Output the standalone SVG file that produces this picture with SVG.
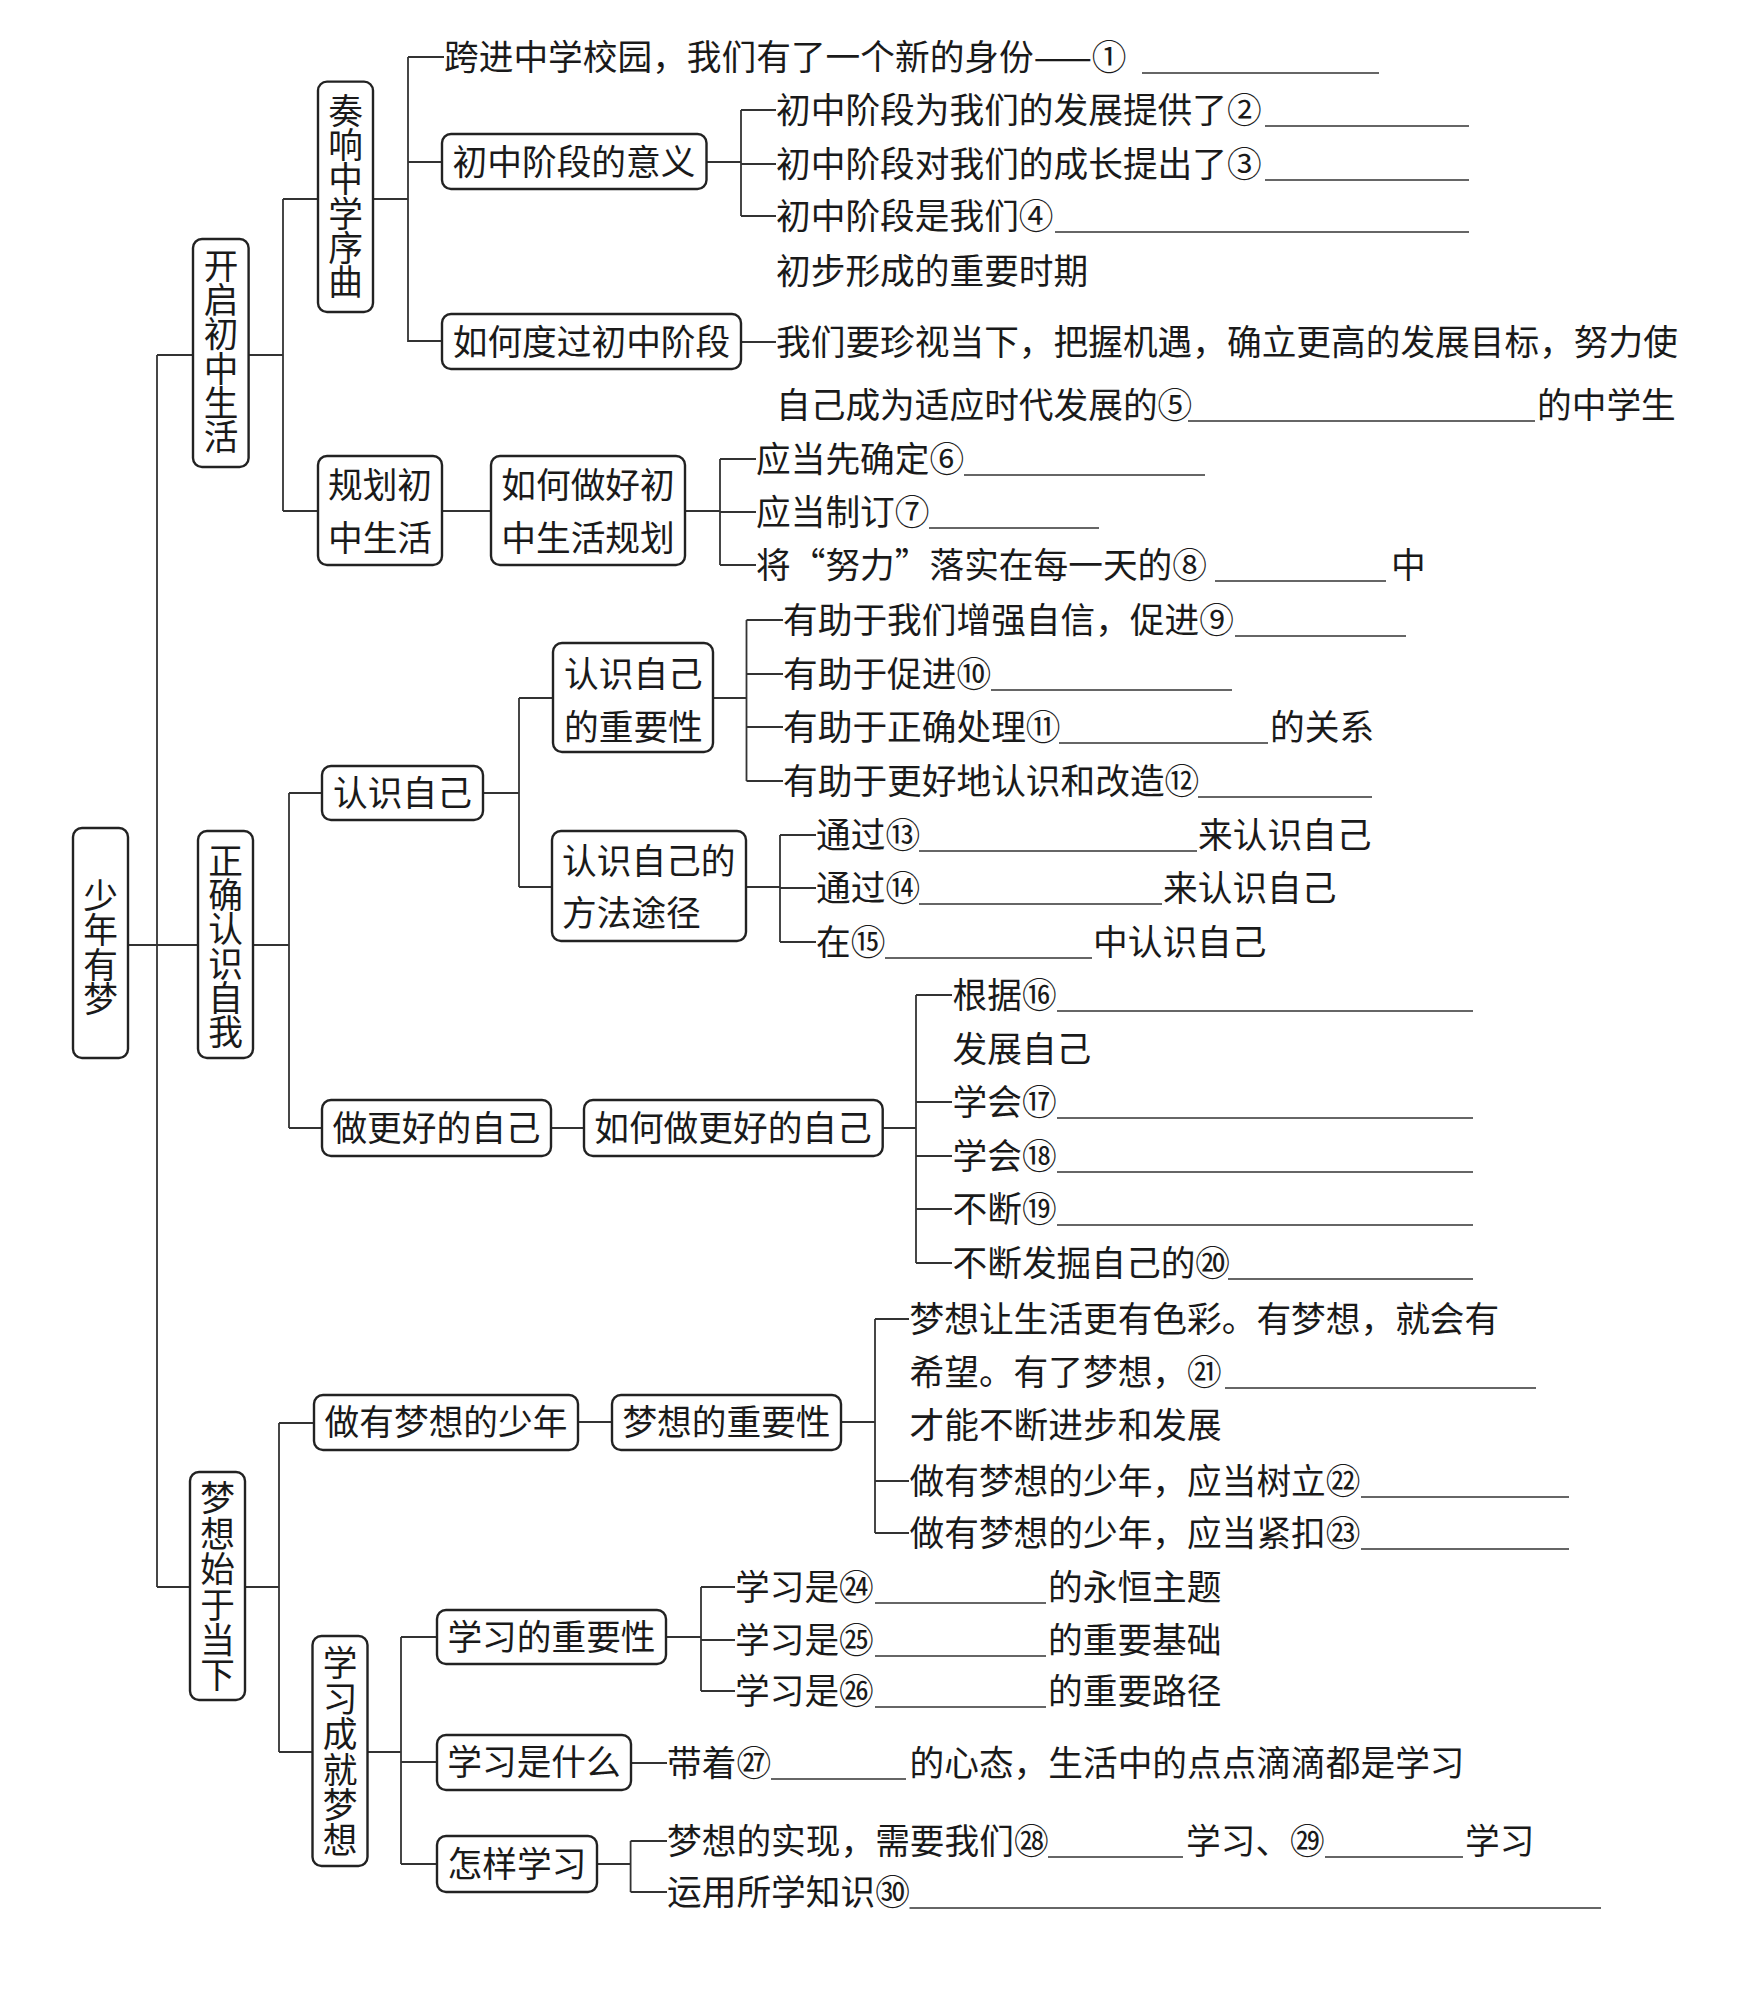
<svg xmlns="http://www.w3.org/2000/svg" width="1742" height="2004" viewBox="0 0 1742 2004">
<style>
text{font-family:"Noto Sans CJK SC","Noto Sans",sans-serif;font-size:34.7px;fill:#1a1a1a}
.c{text-anchor:middle}
.v{writing-mode:vertical-rl;text-anchor:middle;letter-spacing:-0.6px}
.v2{writing-mode:vertical-rl;text-anchor:middle;letter-spacing:0.7px}
.box{fill:#fff;stroke:#222;stroke-width:2.4}
.ln{stroke:#333;stroke-width:1.8;fill:none}
.ul{stroke:#333;stroke-width:1.6}
</style>
<rect width="1742" height="2004" fill="#fff"/>
<g id="connectors" class="ln">
<path d="M157,355V1587M128,945H198M157,355H193M157,1587H190"/>
<path d="M248.6,355H283M283,199V511M283,199H318M283,511H318"/>
<path d="M373,199H408M408,57V342M408,57H444M408,162H442M408,341H442"/>
<path d="M706.5,162H741M741,110V216M741,110H776M741,164H776M741,216H776M741,342H776"/>
<path d="M442,511H491M685,511H720M720,459V565M720,459H756M720,512H756M720,565H756"/>
<path d="M253,945H289M289,793V1128M289,793H322M289,1128H322"/>
<path d="M483,793H519M519,698V887M519,698H553M519,887H552"/>
<path d="M713,698H746.5M746.5,620V781M746.5,620H783M746.5,674H783M746.5,727H783M746.5,781H783"/>
<path d="M746,887H780M780,835V942M780,835H816M780,888H816M780,942H816"/>
<path d="M551,1128H584M882.7,1128H916M916,995V1263M916,995H952M916,1102H952M916,1156H952M916,1209H952M916,1263H952"/>
<path d="M245,1587H279M279,1423V1752M279,1423H314M279,1752H312.5"/>
<path d="M578,1422H612M841,1422H875M875,1319V1533M875,1319H909M875,1481H909M875,1533H909"/>
<path d="M367.5,1752H401M401,1637V1864M401,1637H437M401,1762H437M401,1864H437"/>
<path d="M666,1637H701M701,1587V1691M701,1587H735M701,1640H735M701,1691H735"/>
<path d="M631,1763H667M597,1864H630.6M630.6,1841V1892M630.6,1841H667M630.6,1892H667"/>
</g>
<g id="root"><rect class="box" x="73" y="828" width="55" height="230" rx="9"/><text class="v" x="100.5" y="947">少年有梦</text></g>
<g id="n-kaiqi"><rect class="box" x="193" y="239" width="55.6" height="228" rx="9"/><text class="v" x="221" y="351">开启初中生活</text></g>
<g id="n-zouxiang"><rect class="box" x="318" y="81.6" width="55" height="230.4" rx="9"/><text class="v" x="345.5" y="196">奏响中学序曲</text></g>
<g id="n-yiyi"><rect class="box" x="442" y="134" width="264.5" height="55" rx="9"/><text class="c" x="574" y="175">初中阶段的意义</text></g>
<g id="n-duguo"><rect class="box" x="442" y="314" width="299" height="55" rx="9"/><text class="c" x="591.5" y="354.5">如何度过初中阶段</text></g>
<g id="n-guihua"><rect class="box" x="318" y="456" width="124" height="109" rx="9"/><text class="c"><tspan x="380" y="498">规划初</tspan><tspan x="380" y="551">中生活</tspan></text></g>
<g id="n-ruhezuohao"><rect class="box" x="491" y="456" width="194" height="109" rx="9"/><text class="c"><tspan x="588" y="498">如何做好初</tspan><tspan x="588" y="551">中生活规划</tspan></text></g>
<g id="l1"><text x="444" y="70">跨进中学校园，我们有了一个新的身份——①</text><line class="ul" x1="1142" y1="73" x2="1379" y2="73"/></g>
<g id="l2"><text x="776" y="123">初中阶段为我们的发展提供了②</text><line class="ul" x1="1265" y1="126" x2="1469" y2="126"/></g>
<g id="l3"><text x="776" y="177">初中阶段对我们的成长提出了③</text><line class="ul" x1="1265" y1="180" x2="1469" y2="180"/></g>
<g id="l4"><text x="776" y="229">初中阶段是我们④</text><line class="ul" x1="1055" y1="232" x2="1469" y2="232"/><text x="776" y="284">初步形成的重要时期</text></g>
<g id="l5"><text x="776" y="355">我们要珍视当下，把握机遇，确立更高的发展目标，努力使</text><text x="776" y="418">自己成为适应时代发展的⑤</text><line class="ul" x1="1188" y1="421" x2="1535" y2="421"/><text x="1537" y="418">的中学生</text></g>
<g id="l6"><text x="756" y="472">应当先确定⑥</text><line class="ul" x1="964" y1="475" x2="1205" y2="475"/></g>
<g id="l7"><text x="756" y="525">应当制订⑦</text><line class="ul" x1="929" y1="528" x2="1099" y2="528"/></g>
<g id="l8"><text x="756" y="578">将“努力”落实在每一天的⑧</text><line class="ul" x1="1215" y1="581" x2="1386" y2="581"/><text x="1391" y="578">中</text></g>
<g id="n-zhengque"><rect class="box" x="198" y="831" width="55" height="227" rx="9"/><text class="v" x="225.5" y="946">正确认识自我</text></g>
<g id="n-renshi"><rect class="box" x="322" y="766" width="161" height="54" rx="9"/><text class="c" x="402.5" y="806">认识自己</text></g>
<g id="n-zhongyao1"><rect class="box" x="553" y="643" width="160" height="109" rx="9"/><text><tspan x="564" y="687">认识自己</tspan><tspan x="564" y="740">的重要性</tspan></text></g>
<g id="n-fangfa"><rect class="box" x="552" y="831" width="194" height="110" rx="9"/><text><tspan x="562" y="874">认识自己的</tspan><tspan x="562" y="926">方法途径</tspan></text></g>
<g id="n-zuogenghao"><rect class="box" x="322" y="1100" width="229" height="56" rx="9"/><text class="c" x="436.5" y="1141">做更好的自己</text></g>
<g id="n-ruhezuogenghao"><rect class="box" x="584" y="1100" width="298.7" height="56" rx="9"/><text class="c" x="733" y="1141">如何做更好的自己</text></g>
<g id="l9"><text x="783" y="633">有助于我们增强自信，促进⑨</text><line class="ul" x1="1235" y1="636" x2="1406" y2="636"/></g>
<g id="l10"><text x="783" y="687">有助于促进⑩</text><line class="ul" x1="991" y1="690" x2="1232" y2="690"/></g>
<g id="l11"><text x="783" y="740">有助于正确处理⑪</text><line class="ul" x1="1059" y1="743" x2="1268" y2="743"/><text x="1270" y="740">的关系</text></g>
<g id="l12"><text x="783" y="794">有助于更好地认识和改造⑫</text><line class="ul" x1="1198" y1="797" x2="1372" y2="797"/></g>
<g id="l13"><text x="816" y="848">通过⑬</text><line class="ul" x1="919" y1="851" x2="1197" y2="851"/><text x="1198" y="848">来认识自己</text></g>
<g id="l14"><text x="816" y="901">通过⑭</text><line class="ul" x1="919" y1="904" x2="1162" y2="904"/><text x="1163" y="901">来认识自己</text></g>
<g id="l15"><text x="816" y="955">在⑮</text><line class="ul" x1="885" y1="958" x2="1092" y2="958"/><text x="1093" y="955">中认识自己</text></g>
<g id="l16"><text x="952.5" y="1008">根据⑯</text><line class="ul" x1="1057" y1="1011" x2="1473" y2="1011"/><text x="952.5" y="1062">发展自己</text></g>
<g id="l17"><text x="952.5" y="1115">学会⑰</text><line class="ul" x1="1057" y1="1118" x2="1473" y2="1118"/></g>
<g id="l18"><text x="952.5" y="1169">学会⑱</text><line class="ul" x1="1057" y1="1172" x2="1473" y2="1172"/></g>
<g id="l19"><text x="952.5" y="1222">不断⑲</text><line class="ul" x1="1057" y1="1225" x2="1473" y2="1225"/></g>
<g id="l20"><text x="952.5" y="1276">不断发掘自己的⑳</text><line class="ul" x1="1228" y1="1279" x2="1473" y2="1279"/></g>
<g id="n-mengxiang"><rect class="box" x="190" y="1472" width="55" height="228" rx="9"/><text class="v2" x="217.5" y="1587">梦想始于当下</text></g>
<g id="n-shaonian"><rect class="box" x="314" y="1395" width="264" height="55" rx="9"/><text class="c" x="446" y="1435">做有梦想的少年</text></g>
<g id="n-mxzhongyao"><rect class="box" x="612" y="1395" width="229" height="55" rx="9"/><text class="c" x="726.5" y="1435">梦想的重要性</text></g>
<g id="n-xuexichengjiu"><rect class="box" x="312.5" y="1636" width="55" height="230" rx="9"/><text class="v2" x="340" y="1752">学习成就梦想</text></g>
<g id="n-xxzhongyao"><rect class="box" x="437" y="1610" width="229" height="54" rx="9"/><text class="c" x="551.5" y="1650">学习的重要性</text></g>
<g id="n-xxshishenme"><rect class="box" x="437" y="1735" width="194" height="55" rx="9"/><text class="c" x="534" y="1775">学习是什么</text></g>
<g id="n-zenyang"><rect class="box" x="437" y="1836" width="160" height="56" rx="9"/><text class="c" x="517" y="1877">怎样学习</text></g>
<g id="l21"><text x="909.5" y="1332">梦想让生活更有色彩。有梦想，就会有</text><text x="909.5" y="1385">希望。有了梦想，㉑</text><line class="ul" x1="1225" y1="1388" x2="1536" y2="1388"/><text x="909.5" y="1438">才能不断进步和发展</text></g>
<g id="l22"><text x="909.5" y="1494">做有梦想的少年，应当树立㉒</text><line class="ul" x1="1361" y1="1497" x2="1569" y2="1497"/></g>
<g id="l23"><text x="909.5" y="1546">做有梦想的少年，应当紧扣㉓</text><line class="ul" x1="1361" y1="1549" x2="1569" y2="1549"/></g>
<g id="l24"><text x="735" y="1600">学习是㉔</text><line class="ul" x1="875" y1="1603" x2="1046" y2="1603"/><text x="1048" y="1600">的永恒主题</text></g>
<g id="l25"><text x="735" y="1653">学习是㉕</text><line class="ul" x1="875" y1="1656" x2="1046" y2="1656"/><text x="1048" y="1653">的重要基础</text></g>
<g id="l26"><text x="735" y="1704">学习是㉖</text><line class="ul" x1="875" y1="1707" x2="1046" y2="1707"/><text x="1048" y="1704">的重要路径</text></g>
<g id="l27"><text x="667" y="1776">带着㉗</text><line class="ul" x1="771" y1="1779" x2="906" y2="1779"/><text x="909.5" y="1776">的心态，生活中的点点滴滴都是学习</text></g>
<g id="l28"><text x="667" y="1854">梦想的实现，需要我们㉘</text><line class="ul" x1="1048" y1="1857" x2="1183" y2="1857"/><text x="1186" y="1854">学习、㉙</text><line class="ul" x1="1325" y1="1857" x2="1463" y2="1857"/><text x="1465" y="1854">学习</text></g>
<g id="l30"><text x="667" y="1905">运用所学知识㉚</text><line class="ul" x1="909.5" y1="1908" x2="1601" y2="1908"/></g>
</svg>
